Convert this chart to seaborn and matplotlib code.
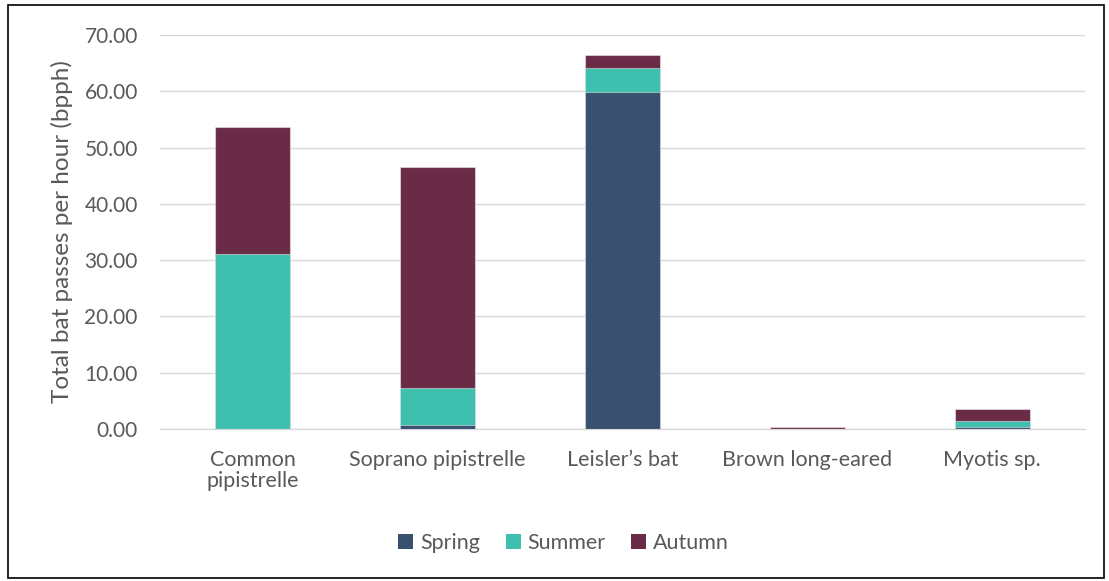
import matplotlib
matplotlib.use("Agg")
import matplotlib.pyplot as plt
from matplotlib.patches import Rectangle, Patch
import seaborn as sns
import pandas as pd

species = ["Common\npipistrelle", "Soprano pipistrelle", "Leisler\u2019s bat",
           "Brown long-eared", "Myotis sp."]
spring = [0.0, 0.8, 59.9, 0.0, 0.35]
summer = [31.1, 6.4, 4.3, 0.05, 1.05]
autumn = [22.5, 39.3, 2.2, 0.25, 2.1]
seasons = ["Spring", "Summer", "Autumn"]
colors = {"Spring": "#3A5070", "Summer": "#3FBFAD", "Autumn": "#6A2B47"}
yticks = [0, 10, 20, 30, 40, 50, 60, 70]

sns.set_theme(style="white")
plt.rcParams["font.family"] = ["Lato", "DejaVu Sans"]
text_col = "#595959"

df = pd.DataFrame({"species": species, "Spring": spring,
                   "Summer": summer, "Autumn": autumn})
df["c_spring"] = df["Spring"]
df["c_summer"] = df["Spring"] + df["Summer"]
df["c_autumn"] = df["c_summer"] + df["Autumn"]

fig = plt.figure(figsize=(11.09, 5.81), dpi=100)
ax = fig.add_axes([0.1443, 0.2616, 0.8337, 0.6781])

# stacked bars drawn as overlapping cumulative totals, tallest first
for col, season in [("c_autumn", "Autumn"), ("c_summer", "Summer"), ("c_spring", "Spring")]:
    sns.barplot(data=df, x="species", y=col, color=colors[season], ax=ax,
                width=0.405, saturation=1, edgecolor=(1, 1, 1, 0.45), linewidth=0.8,
                zorder=3)

ax.set_ylim(0, 70)
ax.set_xlim(-0.5, 4.5)
ax.set_yticks(yticks)
ax.set_yticklabels([f"{v:.2f}" for v in yticks])
ax.yaxis.grid(True, color="#D9D9D9", linewidth=1.0, zorder=0)
ax.set_axisbelow(True)
for s in ["top", "right", "left"]:
    ax.spines[s].set_visible(False)
ax.spines["bottom"].set_color("#D9D9D9")
ax.spines["bottom"].set_linewidth(1.0)
ax.tick_params(axis="y", length=0, labelsize=15, colors=text_col, pad=16)
ax.tick_params(axis="x", length=0, labelsize=15.5, colors=text_col, pad=15)
for lbl in ax.get_xticklabels():
    lbl.set_linespacing(1.1)
ax.set_xlabel("")
ax.set_ylabel("Total bat passes per hour (bpph)", fontsize=17.5, color=text_col)
ax.yaxis.set_label_coords(-0.094, 0.5)

handles = [Patch(facecolor=colors[s], edgecolor="none") for s in seasons]
fig.legend(handles, seasons, loc="center", bbox_to_anchor=(0.508, 0.066), ncol=3,
           frameon=False, fontsize=15.5, handlelength=0.7, handleheight=0.7,
           handletextpad=0.3, columnspacing=1.2, labelcolor=text_col)

fig.patches.append(Rectangle((0.0075, 0.006), 0.988, 0.986, transform=fig.transFigure,
                             fill=False, edgecolor="black", linewidth=1.2))

fig.savefig("out.png", dpi=100, facecolor="white")
